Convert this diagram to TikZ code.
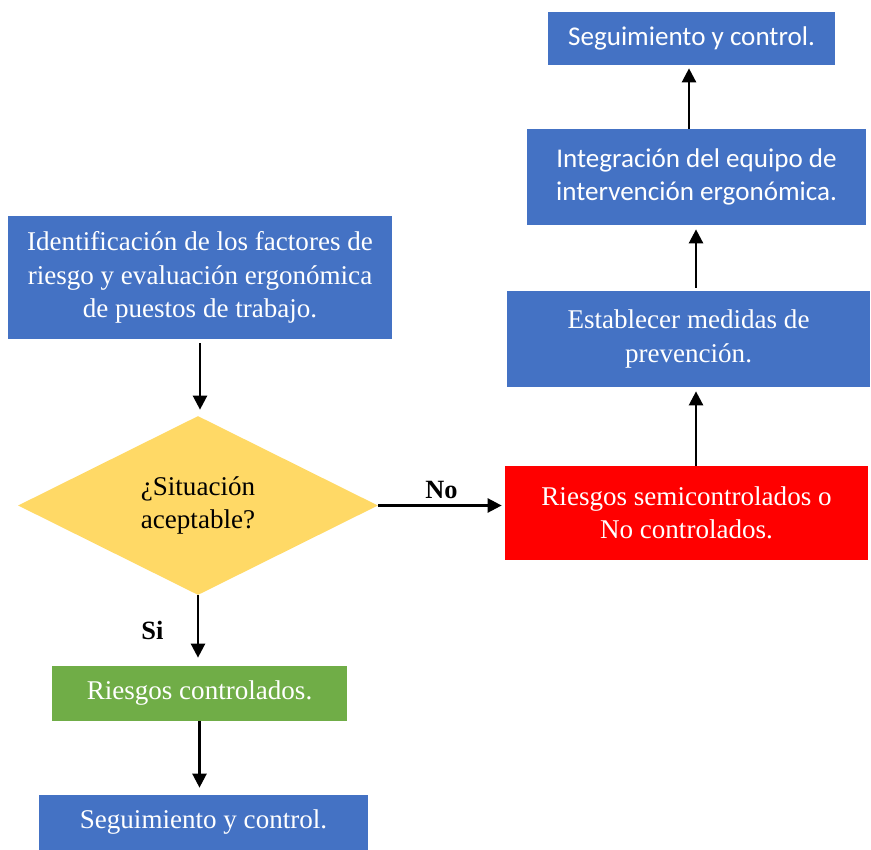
\documentclass[tikz,border=0pt]{standalone}
\usepackage{fontspec}
\setmainfont{Liberation Serif}
\newfontfamily\calibri{Carlito}
\usetikzlibrary{arrows.meta,calc,positioning,shapes.geometric}
\definecolor{cajaazul}{HTML}{4472C4}
\definecolor{cajaroja}{HTML}{FF0000}
\definecolor{cajaverde}{HTML}{70AD47}
\definecolor{rombo}{HTML}{FFD966}

\begin{document}
\begin{tikzpicture}[
  caja/.style={draw=none, fill=cajaazul, text=white, align=center, inner sep=2pt,
    font=\fontsize{15.4}{19}\selectfont},
  cajasans/.style={caja, font=\calibri\fontsize{15.4}{19}\selectfont},
  decision/.style={diamond, fill=rombo, aspect=2, inner sep=0pt, align=center,
    minimum width=7.2cm, minimum height=3.58cm, font=\fontsize{15.4}{19}\selectfont},
  flecha/.style={-{Triangle[length=0.28cm, width=0.28cm]}, line width=1.4pt},
  etiqueta/.style={font=\bfseries\fontsize{15}{17}\selectfont}]

\useasboundingbox (0,0) rectangle (17.42,-16.98);

\node[cajasans, minimum width=5.74cm, minimum height=1.06cm] (segarriba) at (13.83,-0.77)
  {Seguimiento y control.};
\node[cajasans, minimum width=6.78cm, minimum height=1.92cm] (integ) at (13.93,-3.54)
  {Integración del equipo de\\intervención ergonómica.};
\node[caja, minimum width=7.68cm, minimum height=2.46cm] (ident) at (4.0,-5.55)
  {Identificación de los factores de\\riesgo y evaluación ergonómica\\de puestos de trabajo.};
\node[caja, minimum width=7.26cm, minimum height=1.92cm] (estab) at (13.77,-6.78)
  {Establecer medidas de\\prevención.};
\node[decision] (dec) at (3.96,-10.11) {¿Situación\\aceptable?};
\node[caja, fill=cajaroja, minimum width=7.26cm, minimum height=1.88cm] (noctrl) at (13.73,-10.26)
  {Riesgos semicontrolados o\\No controlados.};
\node[caja, fill=cajaverde, minimum width=5.9cm, minimum height=1.1cm] (ctrl) at (3.99,-13.87)
  {Riesgos controlados.};
\node[caja, minimum width=6.58cm, minimum height=1.1cm] (segabajo) at (4.07,-16.45)
  {Seguimiento y control.};

% flujo principal
\draw[flecha, shorten <=0.08cm, shorten >=0.12cm] (ident.south) -- (ident.south |- dec.north);
\draw[flecha, shorten >=0.06cm] (dec.east) -- (dec.east -| noctrl.west)
  node[midway, above, etiqueta] {No};
\draw[flecha, shorten >=0.16cm] (dec.south) -- (dec.south |- ctrl.north)
  node[midway, left=0.55cm, etiqueta] {Si};
\draw[flecha, shorten >=0.14cm] (ctrl.south) -- (ctrl.south |- segabajo.north);

% columna derecha
\draw[flecha, shorten >=0.08cm] ([xshift=0.19cm]noctrl.north) -- ([xshift=0.19cm]noctrl.north |- estab.south);
\draw[flecha, shorten <=0.06cm, shorten >=0.08cm] ([xshift=0.15cm]estab.north) -- ([xshift=0.15cm]estab.north |- integ.south);
\draw[flecha, shorten >=0.06cm] ([xshift=-0.15cm]integ.north) -- ([xshift=-0.15cm]integ.north |- segarriba.south);

\end{tikzpicture}
\end{document}
